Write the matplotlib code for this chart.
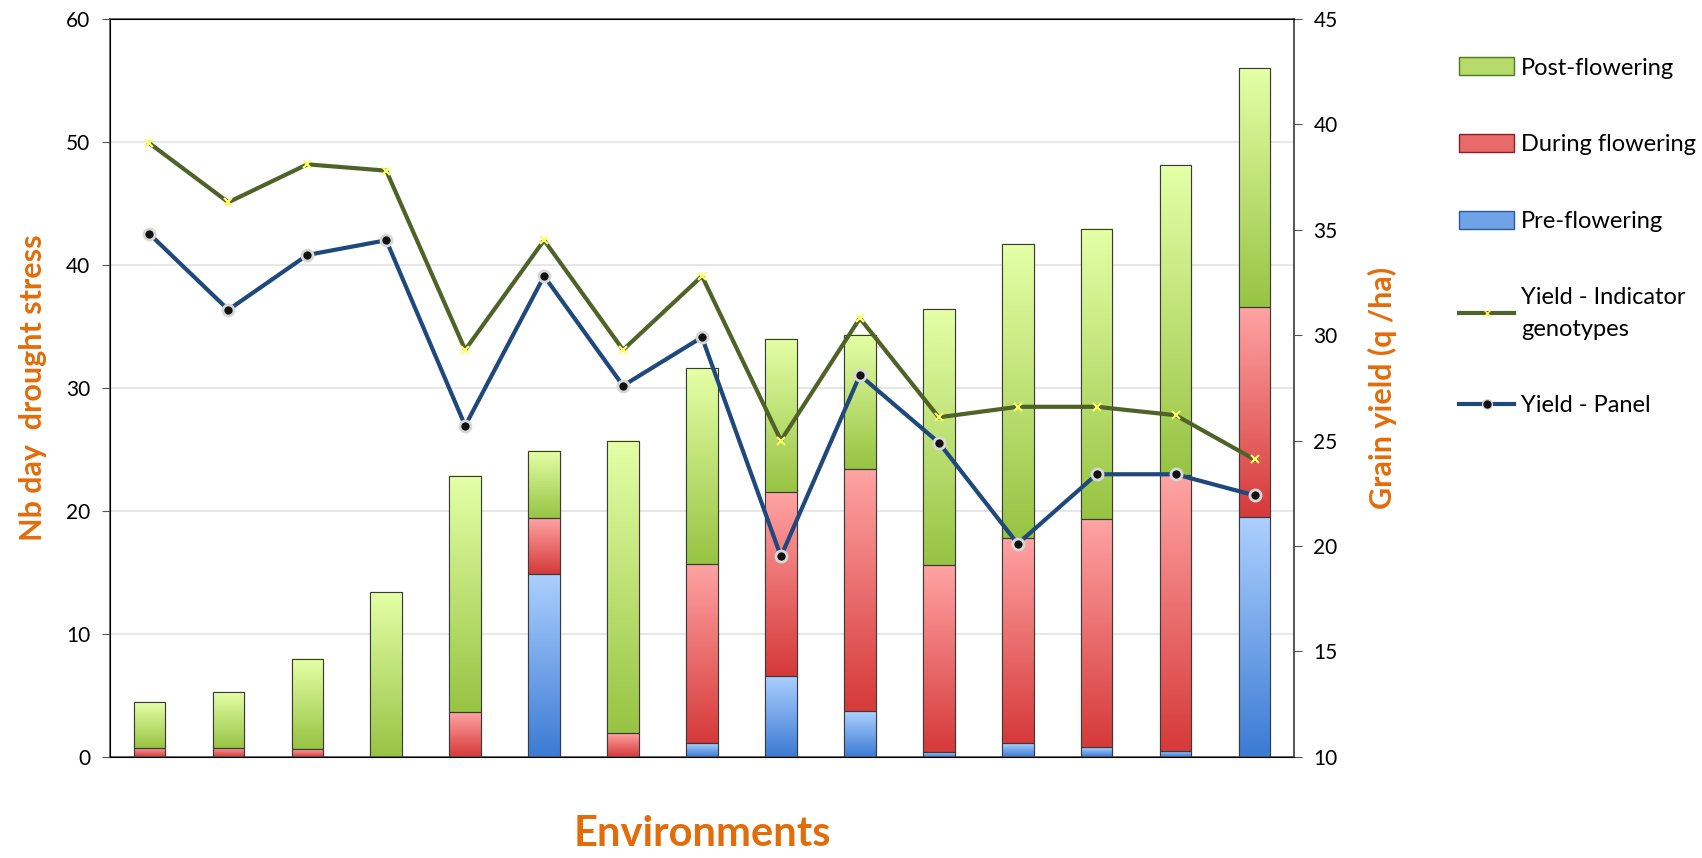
import numpy as np
import matplotlib.pyplot as plt
from matplotlib.colors import LinearSegmentedColormap
from matplotlib.patches import Patch
from matplotlib.lines import Line2D

plt.rcParams['font.family'] = ['Lato', 'DejaVu Sans']

# Nb day of drought stress per environment (stacked)
pre_flowering = [0, 0, 0, 0, 0, 14.9, 0, 1.1, 6.6, 3.7, 0.4, 1.1, 0.8, 0.5, 19.5]
during_flowering = [0.75, 0.75, 0.6, 0, 3.6, 4.5, 1.9, 14.6, 14.9, 19.7, 15.2, 16.7, 18.5, 22.4, 17.1]
post_flowering = [3.7, 4.5, 7.35, 13.4, 19.2, 5.5, 23.8, 15.9, 12.5, 10.9, 20.8, 23.9, 23.65, 25.2, 19.4]
# Grain yield (q/ha)
yield_indicator = [39.1, 36.3, 38.1, 37.8, 29.3, 34.5, 29.3, 32.8, 25.0, 30.8, 26.1, 26.6, 26.6, 26.2, 24.1]
yield_panel = [34.8, 31.2, 33.8, 34.5, 25.7, 32.8, 27.6, 29.9, 19.5, 28.1, 24.9, 20.1, 23.4, 23.4, 22.4]

orange = '#E36C09'
fig = plt.figure(figsize=(17.02, 8.58), dpi=100)
ax = fig.add_axes([0.0646, 0.118, 0.6957, 0.860])
x = np.arange(len(pre_flowering))
w = 0.4

grads = {
    'pre': ('#ACD0FF', '#3C7BD4'),
    'during': ('#FFA3A3', '#D63A3A'),
    'post': ('#E4FFA6', '#98C444'),
}

pre = np.array(pre_flowering)
dur = np.array(during_flowering)
post = np.array(post_flowering)
segs = [('pre', pre, np.zeros_like(pre)), ('during', dur, pre), ('post', post, pre + dur)]

grad = np.linspace(1, 0, 64).reshape(-1, 1)
for key, vals, bottoms in segs:
    cmap = LinearSegmentedColormap.from_list(key, [grads[key][1], grads[key][0]])
    bars = ax.bar(x, vals, w, bottom=bottoms, color=grads[key][1], edgecolor='#3a3a3a',
                  linewidth=0.8, zorder=2)
    for b, v in zip(bars, vals):
        if v <= 0:
            continue
        x0, y0 = b.get_x(), b.get_y()
        ax.imshow(grad, cmap=cmap, extent=(x0, x0 + b.get_width(), y0, y0 + v),
                  aspect='auto', zorder=2.5, interpolation='bicubic', vmin=0, vmax=1)
        ax.add_patch(plt.Rectangle((x0, y0), b.get_width(), v, fill=False,
                                   edgecolor='#3a3a3a', linewidth=0.8, zorder=3))

ax.set_xlim(-0.5, len(x) - 0.5)
ax.set_ylim(0, 60)
ax.set_yticks(range(0, 61, 10))
ax.set_xticks([])
ax.yaxis.grid(True, color='#e3e3e3', linewidth=1.2, zorder=0)
ax.set_axisbelow(True)
ax.tick_params(axis='y', labelsize=15, length=6, color='#555555', direction='out', pad=8)
for s in ax.spines.values():
    s.set_color('#555555')
    s.set_linewidth(1.2)
ax.set_ylabel('Nb day  drought stress', fontsize=22, fontweight='bold', color=orange, labelpad=14)
ax.set_xlabel('Environments', fontsize=30, fontweight='bold', color=orange, labelpad=42)

ax2 = ax.twinx()
ax2.set_ylim(10, 45)
ax2.set_yticks(range(10, 46, 5))
ax2.tick_params(axis='y', labelsize=15, length=6, color='#555555', pad=8)
ax2.spines['right'].set_color('#555555')
ax2.spines['right'].set_linewidth(1.2)
ax2.plot(x, yield_indicator, color='#4F6228', linewidth=3, marker='x', markersize=6,
         markeredgecolor='#FFFF66', markeredgewidth=1.5, zorder=5)
ax2.plot(x, yield_panel, color='#1F497D', linewidth=3, marker='o', markersize=8,
         markerfacecolor='#111111', markeredgecolor='#d8d8d8', markeredgewidth=2, zorder=6)
ax2.set_ylabel('Grain yield (q /ha)', fontsize=22, fontweight='bold', color=orange,
               rotation=90, labelpad=22)

handles = [
    Patch(facecolor='#B6DB6A', edgecolor='#4F7A20', label='Post-flowering'),
    Patch(facecolor='#E86A6A', edgecolor='#8C2020', label='During flowering'),
    Patch(facecolor='#6FA2E6', edgecolor='#2A5A9C', label='Pre-flowering'),
    Line2D([], [], color='#4F6228', linewidth=3, marker='x', markersize=6,
           markeredgecolor='#FFFF66', label='Yield - Indicator\ngenotypes'),
    Line2D([], [], color='#1F497D', linewidth=3, marker='o', markersize=7,
           markerfacecolor='#111111', markeredgecolor='#d8d8d8', label='Yield - Panel'),
]
leg = fig.legend(handles=handles, loc='upper left', bbox_to_anchor=(0.845, 0.958), frameon=False,
                 fontsize=17, labelspacing=2.35, handlelength=2.3, handleheight=0.8,
                 handletextpad=0.3)
leg.get_texts()[3].set_linespacing(1.6)

fig.savefig('out.png', dpi=100)
